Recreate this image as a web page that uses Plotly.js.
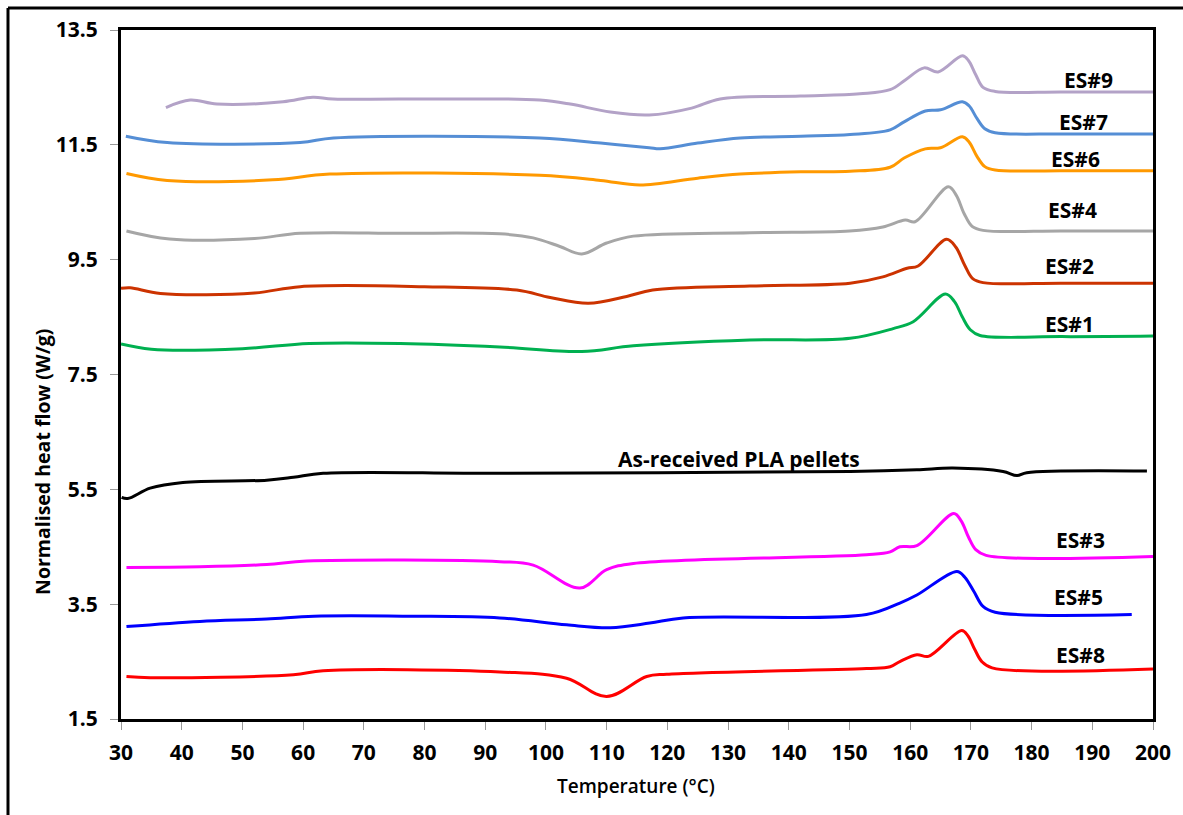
<!DOCTYPE html>
<html>
<head>
<meta charset="utf-8">
<script src="https://cdn.plot.ly/plotly-3.0.1.min.js"></script>
<style>
  html, body { margin: 0; padding: 0; background: #fff; }
  #chart { width: 1183px; height: 815px; }
</style>
</head>
<body>
<div id="chart"></div>
<script>
// ---- Data (Temperature °C, Normalised heat flow W/g) ----
const es9T = [37.4, 41.4, 45.8, 56.7, 61.6, 64.9, 84, 99, 104, 110.6, 117, 124, 128.7, 141.9, 151.7, 156.7, 159.2, 162.3, 164.6, 168.6, 169.6, 170.8, 172, 174, 185, 200];
const es9Y = [12.15, 12.28, 12.21, 12.25, 12.33, 12.30, 12.30, 12.28, 12.21, 12.07, 12.02, 12.14, 12.30, 12.35, 12.39, 12.46, 12.63, 12.84, 12.77, 13.05, 12.97, 12.72, 12.50, 12.43, 12.42, 12.42];

const es7T = [30.8, 37.6, 59.5, 65, 99, 109, 117, 118.8, 125, 132, 142, 150.1, 156.7, 159, 162.5, 165, 168.6, 169.7, 171, 172.3, 174, 185, 200];
const es7Y = [11.65, 11.54, 11.54, 11.62, 11.62, 11.53, 11.45, 11.43, 11.53, 11.62, 11.65, 11.68, 11.76, 11.90, 12.09, 12.11, 12.25, 12.18, 11.96, 11.78, 11.71, 11.69, 11.69];

const es6T = [30.9, 37.6, 55, 64.4, 99, 109, 115.5, 125, 132, 142, 150.1, 156.7, 159, 162.5, 165, 168.6, 169.7, 171, 172.3, 174, 185, 200];
const es6Y = [11.00, 10.88, 10.89, 10.99, 10.97, 10.88, 10.80, 10.92, 10.99, 11.03, 11.04, 11.11, 11.27, 11.43, 11.45, 11.64, 11.55, 11.30, 11.12, 11.06, 11.05, 11.05];

const es4T = [30.9, 38, 52, 59.5, 76, 92.4, 97.9, 102.3, 105.9, 110, 114.4, 133.6, 150, 155.5, 159.2, 160.8, 166.3, 167.6, 168.9, 170.2, 172, 185, 200];
const es4Y = [10.00, 9.86, 9.87, 9.96, 9.96, 9.95, 9.88, 9.73, 9.60, 9.79, 9.91, 9.97, 10.00, 10.07, 10.19, 10.16, 10.77, 10.62, 10.30, 10.08, 10.01, 10.00, 10.00];

const es2T = [30, 31.5, 36.5, 52, 59.5, 80, 95.2, 100.7, 107, 113.3, 117.6, 133.6, 150.1, 155.5, 159.5, 161.3, 166, 167.5, 169, 170.3, 172, 185, 200];
const es2Y = [9.00, 9.01, 8.91, 8.92, 9.03, 9.03, 8.97, 8.84, 8.74, 8.86, 8.97, 9.04, 9.09, 9.20, 9.35, 9.39, 9.855, 9.72, 9.40, 9.17, 9.10, 9.09, 9.09];

const es1T = [30, 35, 50, 61, 76, 92.4, 105.9, 114.4, 133.6, 150.1, 157.2, 160.5, 165.8, 167.3, 168.6, 169.9, 171.5, 185, 200];
const es1Y = [8.03, 7.94, 7.95, 8.04, 8.04, 7.98, 7.90, 8.00, 8.10, 8.13, 8.30, 8.42, 8.90, 8.77, 8.50, 8.28, 8.18, 8.16, 8.17];

const plaT = [30.1, 31.1, 34.8, 40.2, 54, 58.4, 63.3, 92.4, 150.1, 161.1, 167, 175.3, 177.6, 179.2, 199];
const plaY = [5.36, 5.34, 5.52, 5.62, 5.66, 5.71, 5.78, 5.78, 5.81, 5.84, 5.87, 5.81, 5.74, 5.79, 5.82];

const es3T = [30.9, 43, 54, 60.6, 92.4, 97.9, 105.6, 110, 114.4, 152.8, 156.7, 158.3, 161.1, 167.2, 168.4, 169.6, 170.8, 172.5, 200];
const es3Y = [4.14, 4.15, 4.19, 4.25, 4.24, 4.18, 3.78, 4.10, 4.21, 4.36, 4.41, 4.50, 4.52, 5.08, 4.95, 4.67, 4.45, 4.35, 4.33];

const es5T = [30.9, 43, 54, 61.8, 77.8, 92.4, 103.4, 110.6, 117.1, 122.6, 152.8, 158.3, 161.1, 167.7, 169, 170.5, 172, 174, 196.5];
const es5Y = [3.11, 3.20, 3.24, 3.29, 3.29, 3.26, 3.14, 3.09, 3.17, 3.26, 3.32, 3.52, 3.66, 4.07, 3.97, 3.72, 3.46, 3.36, 3.32];

const es8T = [30.9, 34.8, 58.4, 63.3, 92.4, 103.4, 110, 116.6, 119.9, 152.8, 156.7, 158.3, 161.1, 163, 168.5, 169.5, 170.6, 171.8, 173.5, 200];
const es8Y = [2.24, 2.22, 2.27, 2.34, 2.32, 2.21, 1.89, 2.24, 2.28, 2.38, 2.41, 2.50, 2.62, 2.59, 3.04, 2.95, 2.72, 2.50, 2.39, 2.37];

const seriesNames = ['ES#9', 'ES#7', 'ES#6', 'ES#4', 'ES#2', 'ES#1', 'As-received PLA pellets', 'ES#3', 'ES#5', 'ES#8'];
const labelT = [189.3, 188.5, 187.2, 186.7, 186.3, 186.3, 131.8, 188.0, 187.7, 188.0];
const labelY = [12.63, 11.90, 11.25, 10.37, 9.39, 8.38, 6.03, 4.62, 3.63, 2.62];

const xTicks = [30, 40, 50, 60, 70, 80, 90, 100, 110, 120, 130, 140, 150, 160, 170, 180, 190, 200];
const yTicks = [1.5, 3.5, 5.5, 7.5, 9.5, 11.5, 13.5];

// ---- Build traces ----
const allT = [es9T, es7T, es6T, es4T, es2T, es1T, plaT, es3T, es5T, es8T];
const allY = [es9Y, es7Y, es6Y, es4Y, es2Y, es1Y, plaY, es3Y, es5Y, es8Y];
const colors = ['#B3A2C7', '#558ED5', '#FF9900', '#A6A6A6', '#CC3300', '#00B050', '#000000', '#FF00FF', '#0000FF', '#FF0000'];

const traces = allT.map((t, i) => ({
  x: t, y: allY[i], type: 'scatter', mode: 'lines', name: seriesNames[i],
  line: { color: colors[i], width: 3, shape: 'spline', smoothing: 1 },
  hoverinfo: 'skip'
}));

const FONT = '"Open Sans", "Noto Sans", sans-serif';
const bold = (size) => ({ family: FONT, size: size, color: '#000', weight: 700 });

const annotations = seriesNames.map((n, i) => ({
  x: labelT[i], y: labelY[i], xref: 'x', yref: 'y', text: n,
  xanchor: 'center', yanchor: 'middle',
  showarrow: false, font: bold(21)
}));
annotations.push({
  xref: 'paper', yref: 'paper', x: 0.4995, y: -0.0972, xanchor: 'center', yanchor: 'middle',
  text: 'Temperature (°C)', showarrow: false, font: { family: FONT, size: 19, color: '#000', weight: 600 }
});
annotations.push({
  xref: 'paper', yref: 'paper', x: -0.0766, y: 0.373, xanchor: 'center', yanchor: 'middle',
  text: 'Normalised heat flow (W/g)', textangle: -90, showarrow: false, font: bold(19.5)
});

const layout = {
  width: 1183, height: 815,
  margin: { l: 121, r: 30, t: 30, b: 96, pad: 0 },
  paper_bgcolor: '#fff', plot_bgcolor: '#fff',
  showlegend: false,
  font: { family: FONT, color: '#000' },
  xaxis: {
    range: [30, 200], tickmode: 'array', tickvals: xTicks,
    ticktext: xTicks.map(v => String(v)),
    showgrid: false, zeroline: false,
    showline: true, mirror: true, linecolor: '#000', linewidth: 3,
    ticks: 'outside', ticklen: 8, tickcolor: '#999', tickwidth: 1,
    ticklabelstandoff: 5,
    tickfont: bold(21)
  },
  yaxis: {
    range: [1.5, 13.5], tickmode: 'array', tickvals: yTicks,
    ticktext: yTicks.map(v => v.toFixed(1)),
    showgrid: false, zeroline: false,
    showline: true, mirror: true, linecolor: '#000', linewidth: 3,
    ticks: 'outside', ticklen: 8, tickcolor: '#999', tickwidth: 1,
    ticklabelstandoff: 8,
    tickfont: bold(21)
  },
  annotations: annotations,
  shapes: [
    { type: 'line', xref: 'paper', yref: 'paper', x0: -0.1095, x1: -0.1095, y0: 1.0319, y1: -0.2, line: { color: '#000', width: 3 } },
    { type: 'line', xref: 'paper', yref: 'paper', x0: -0.1095, x1: 1.05, y0: 1.0319, y1: 1.0319, line: { color: '#000', width: 3 } }
  ]
};

Plotly.newPlot('chart', traces, layout, { staticPlot: true, displayModeBar: false });
</script>
</body>
</html>
